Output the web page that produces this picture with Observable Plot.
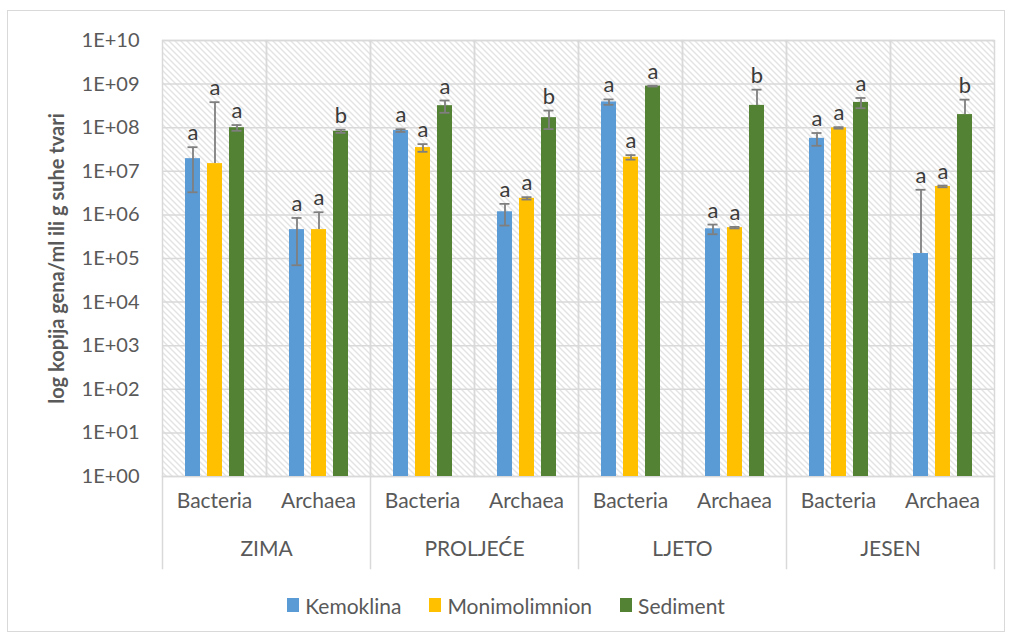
<!DOCTYPE html>
<html><head><meta charset="utf-8">
<script src="https://cdn.jsdelivr.net/npm/d3@7"></script>
<script src="https://cdn.jsdelivr.net/npm/@observablehq/plot@0.6"></script>
<style>
body{margin:0;background:#fff;font-family:Lato,sans-serif;}
#wrap{position:relative;width:1012px;height:637px;overflow:hidden;background:#fff;}
#border{position:absolute;left:7px;top:10px;width:998px;height:622px;border:1.5px solid #d9d9d9;box-sizing:border-box;}
#chart{position:absolute;left:0;top:0;}
#legend{position:absolute;left:0;top:588px;width:1012px;height:34px;display:flex;justify-content:center;align-items:center;}
#legend .lg-swatches{font-family:Lato,sans-serif !important;font-size:21px !important;color:#595959 !important;margin:0 !important;min-height:0 !important;}
#legend .lg-swatch{margin-right:28px !important;}
#legend .lg-swatch:last-child{margin-right:0 !important;}
#legend .lg-swatch > svg{margin-right:6px !important;}
</style></head>
<body>
<div id="wrap"><div id="border"></div><div id="chart"></div><div id="legend"></div></div>
<script>
const seasons = ["ZIMA", "PROLJEĆE", "LJETO", "JESEN"];
const taxa = ["Bacteria", "Archaea"];
const series = ["Kemoklina", "Monimolimnion", "Sediment"];
const colors = ["#5B9BD5", "#FFC000", "#548235"];
// category order: ZIMA-Bacteria, ZIMA-Archaea, PROLJEĆE-Bacteria, PROLJEĆE-Archaea, LJETO-Bacteria, LJETO-Archaea, JESEN-Bacteria, JESEN-Archaea
const kemoklina        = [1.95e7, 4.6e5, 8.6e7, 1.18e6, 3.9e8, 4.8e5, 5.7e7, 1.3e5];
const kemoklinaErr     = [1.62e7, 3.9e5, 6e6,   6.1e5,  5.5e7, 1.2e5, 1.85e7, 3.64e6];
const monimolimnion    = [1.5e7,  4.6e5, 3.5e7, 2.4e6,  2.1e7, 5.1e5, 9.9e7, 4.5e6];
const monimolimnionErr = [3.7e8,  6.9e5, 7e6,   1.5e5,  2.5e6, 2e4,   4e6,   2e5];
const sediment         = [1.0e8,  8.3e7, 3.2e8, 1.7e8,  9.0e8, 3.25e8, 3.8e8, 2.0e8];
const sedimentErr      = [1.5e7,  7e6,   1.0e8, 7.7e7,  2e7,   4.2e8, 1.0e8, 2.4e8];
const kemoklinaLetters     = ["a","a","a","a","a","a","a","a"];
const monimolimnionLetters = ["a","a","a","a","a","a","a","a"];
const sedimentLetters      = ["a","b","a","b","a","b","a","b"];
const yExponents = [0,1,2,3,4,5,6,7,8,9,10];
const yTitle = "log kopija gena/ml ili g suhe tvari";

const values = [kemoklina, monimolimnion, sediment];
const errs = [kemoklinaErr, monimolimnionErr, sedimentErr];
const letters = [kemoklinaLetters, monimolimnionLetters, sedimentLetters];
const key = (s, t) => s + " " + t;
const cats = [];
seasons.forEach(s => taxa.forEach(t => cats.push({key: key(s, t), season: s, taxon: t})));
const rows = [];
cats.forEach((c, ci) => series.forEach((sr, si) => {
  const v = values[si][ci], e = errs[si][ci];
  const lower = v - e;
  rows.push({key: c.key, series: sr, value: v, hi: v + e, lo: lower > 0 ? lower : v, hasLower: lower > 0, letter: letters[si][ci]});
}));
const yTicks = yExponents.map(e => Math.pow(10, e));
const fmt = d => "1E+" + String(Math.round(Math.log10(d))).padStart(2, "0");

const W = 1012, H = 580, mT = 40, mB = 104, mL = 160, mR = 16;
const innerH = H - mT - mB;
const grid = "#d9d9d9";

const separators = seasons.map(s => Plot.frame({fx: key(s, taxa[0]), anchor: "left", stroke: grid, strokeWidth: 1.5, insetTop: innerH, insetBottom: -92}));
separators.push(Plot.frame({fx: key(seasons[seasons.length - 1], taxa[1]), anchor: "right", stroke: grid, strokeWidth: 1.5, insetTop: innerH, insetBottom: -92}));

const chart = Plot.plot({
  width: W, height: H,
  marginTop: mT, marginBottom: mB, marginLeft: mL, marginRight: mR,
  style: {fontFamily: "Lato, sans-serif", background: "transparent", overflow: "visible"},
  fx: {domain: cats.map(c => c.key), padding: 0, axis: null},
  x: {domain: series, paddingInner: 1/3, paddingOuter: 0.99, axis: null},
  y: {type: "log", domain: [1, 1e10]},
  color: {domain: series, range: colors},
  marks: [
    Plot.frame({fill: "url(#hatch)"}),
    Plot.gridY(yTicks, {stroke: grid, strokeOpacity: 1, strokeWidth: 1.5}),
    Plot.frame({stroke: grid, strokeWidth: 1.5}),
    ...separators,
    Plot.axisY(yTicks, {tickFormat: fmt, tickSize: 0, tickPadding: 23, fontSize: 20, color: "#595959", label: null}),
    Plot.text([yTitle], {fx: () => cats[0].key, text: d => d, frameAnchor: "left", textAnchor: "middle", rotate: -90, dx: -105, fontSize: 20, fontWeight: "bold", fill: "#595959"}),
    Plot.barY(rows, {fx: "key", x: "series", y1: 1, y2: "value", fill: "series"}),
    Plot.ruleX(rows, {fx: "key", x: "series", y1: "lo", y2: "hi", stroke: "#7f7f7f", strokeWidth: 1.8}),
    Plot.tickY(rows, {fx: "key", x: "series", y: "hi", stroke: "#7f7f7f", strokeWidth: 1.8, insetLeft: 2.5, insetRight: 2.5}),
    Plot.tickY(rows.filter(d => d.hasLower), {fx: "key", x: "series", y: "lo", stroke: "#7f7f7f", strokeWidth: 1.8, insetLeft: 2.5, insetRight: 2.5}),
    Plot.text(rows, {fx: "key", x: "series", y: "hi", text: "letter", dy: -14, fontSize: 22, fill: "#3a3a3a"}),
    Plot.text(cats, {fx: "key", text: "taxon", frameAnchor: "bottom", dy: 31, fontSize: 21, fill: "#595959"}),
    Plot.text(seasons, {fx: s => key(s, taxa[0]), text: d => d, frameAnchor: "bottom-right", textAnchor: "middle", dy: 79, fontSize: 21, fill: "#595959"})
  ]
});
d3.select(chart).insert("defs", ":first-child").html(
  '<pattern id="hatch" patternUnits="userSpaceOnUse" width="6" height="6">' +
  '<rect width="6" height="6" fill="#ffffff"/>' +
  '<path d="M-1,-1L7,7M-1,5L1,7M5,-1L7,1" stroke="#c6c6c6" stroke-width="1"/></pattern>');
document.getElementById("chart").appendChild(chart);

const legend = Plot.legend({
  color: {type: "ordinal", domain: series, range: colors},
  legend: "swatches", className: "lg", swatchWidth: 12, swatchHeight: 14
});
document.getElementById("legend").appendChild(legend);
</script>
</body></html>
